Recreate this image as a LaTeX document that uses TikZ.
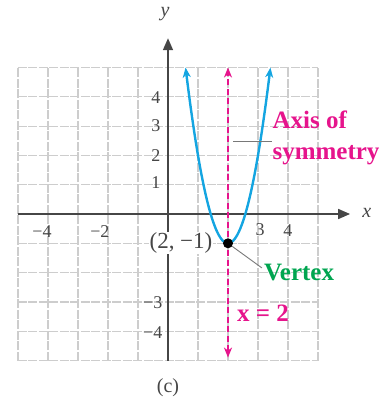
\documentclass[tikz,border=0pt]{standalone}
\usepackage{fontspec}
\setmainfont{Liberation Serif}
\usetikzlibrary{arrows.meta}
\definecolor{symcol}{RGB}{230,20,140}
\definecolor{parcol}{RGB}{20,165,225}
\definecolor{vtxcol}{RGB}{0,165,80}
\definecolor{axcol}{RGB}{70,70,70}
\definecolor{gridcol}{RGB}{205,205,205}
\definecolor{leadcol}{RGB}{120,120,120}
\begin{document}
\begin{tikzpicture}[x=30pt,y=29.3pt,
  gridline/.style={gridcol, line width=1.2pt, dash pattern=on 9pt off 1.5pt},
  axisline/.style={axcol, line width=1.7pt, -{Triangle[length=12pt,width=10pt]}},
  ticklab/.style={font=\fontsize{18}{18}\selectfont, text=axcol, inner sep=0pt},
  axlab/.style={font=\fontsize{20}{20}\selectfont\itshape, text=axcol, inner sep=0pt},
  biglab/.style={font=\fontsize{25}{31}\selectfont\bfseries, inner sep=0pt},
  leader/.style={leadcol, line width=0.9pt},
  tipS/.tip={Stealth[length=10pt,width=8pt,inset=3pt]}
]
\useasboundingbox (-5.6,-6.4505) rectangle (7.4333,7.3038);
% grid
\foreach \i in {-5,...,5}{
  \draw[gridline] (\i,-5) -- (\i,5);
  \draw[gridline] (-5,\i) -- (5,\i);
}
% axes
\coordinate (xs) at (-5,0);
\coordinate (xe) at (6.07,0);
\coordinate (ys) at (0,-5);
\coordinate (ye) at (0,6.0);
\draw[axisline] (xs) -- (xe);
\draw[axisline] (ys) -- (ye);
\node[axlab] (ylab) at (-0.1,6.83) {y};
\node[axlab] (xlab) at (6.63,0.03) {x};
% tick labels
\node[ticklab] (xm4) at (-4.2,-0.61) {−4};
\node[ticklab] (xm2) at (-2.27,-0.61) {−2};
\node[ticklab] (x3) at (3.07,-0.55) {3};
\node[ticklab] (x4) at (4.0,-0.55) {4};
\node[ticklab, anchor=east] (y4) at (-0.25,3.96) {4};
\node[ticklab, anchor=east] (y3) at (-0.25,3.0) {3};
\node[ticklab, anchor=east] (y2) at (-0.25,2.01) {2};
\node[ticklab, anchor=east] (y1) at (-0.25,1.06) {1};
\node[ticklab, anchor=east] (ym3) at (-0.18,-3.04) {−3};
\node[ticklab, anchor=east] (ym4) at (-0.18,-4.03) {−4};
% axis of symmetry
\coordinate (sb) at (2,-4.9);
\coordinate (st) at (2,5.0);
\draw[symcol, line width=2.6pt, dash pattern=on 6pt off 3.5pt, tipS-tipS] (sb) -- (st);
% parabola
\draw[parcol, line width=2.4pt, tipS-tipS] plot[domain=0.5858:3.4142, samples=80, smooth] (\x,{3*(\x-2)^2-1});
% vertex label
\node[font=\fontsize{23}{23}\selectfont, text=axcol, fill=white, inner sep=1pt, anchor=east] (vcoord) at (1.52,-0.99) {(2, −1)};
\node[circle, fill=black, inner sep=0pt, minimum size=10pt] (vtx) at (2,-1) {};
% labels
\node[biglab, text=vtxcol, anchor=west] (vlab) at (3.2,-2.01) {Vertex};
\coordinate (vl) at (3.13,-1.84);
\draw[leader] (vtx) -- (vl);
\node[biglab, text=symcol, anchor=west] (eq) at (2.3,-3.38) {x = 2};
\node[biglab, text=symcol, anchor=west, align=left] (aos) at (3.48,2.6) {Axis of\\symmetry};
\coordinate (la) at (2.17,2.46);
\coordinate (lb) at (3.47,2.46);
\draw[leader] (la) -- (lb);
\node[font=\fontsize{20}{20}\selectfont, text=axcol] (cap) at (0,-5.94) {(c)};
\end{tikzpicture}
\end{document}
